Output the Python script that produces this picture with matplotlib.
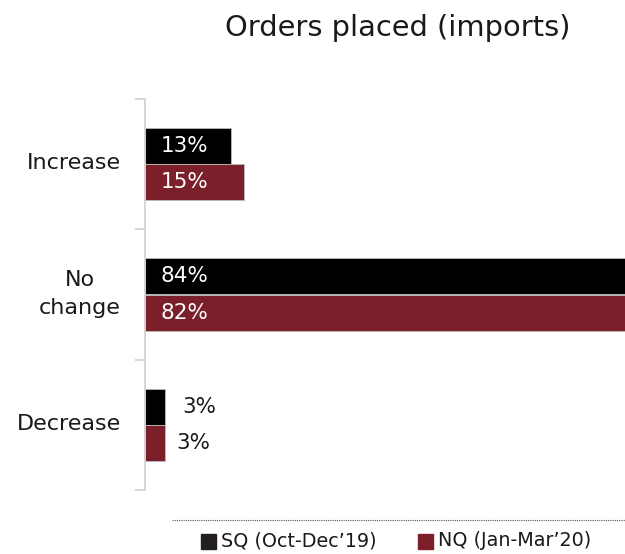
import numpy as np
import matplotlib.pyplot as plt
from matplotlib.patches import Rectangle
from matplotlib.lines import Line2D

plt.rcParams['font.family'] = ['DejaVu Sans']
plt.rcParams['text.color'] = '#1a1a1a'

categories = ['Increase', 'No\nchange', 'Decrease']
sq_values = [13, 84, 3]
nq_values = [15, 82, 3]
series_names = ['SQ (Oct-Dec\u201919)', 'NQ (Jan-Mar\u201920)']
sq_color = '#000000'
nq_color = '#7b1f2b'

W, H = 625, 554
fig = plt.figure(figsize=(W / 100, H / 100), dpi=100)

# axes runs past the right edge so the largest bars are cut off by the figure
left, right = 145, 145 + 660
top, bottom = 99, 490
ax = fig.add_axes([left / W, 1 - bottom / H, (right - left) / W, (bottom - top) / H])
ax.set_xlim(0, 100)
ax.set_ylim(len(categories) - 0.5, -0.5)

y = np.arange(len(categories))
h = 0.277
ax.barh(y - h / 2, sq_values, height=h, color=sq_color, edgecolor='#bbbbbb', linewidth=0.6)
ax.barh(y + h / 2, nq_values, height=h, color=nq_color, edgecolor='#bbbbbb', linewidth=0.6)

for i in range(len(categories)):
    for val, off, dx in ((sq_values[i], -h / 2, 2.6), (nq_values[i], h / 2, 1.8)):
        if val >= 10:
            ax.text(2.4, i + off, f'{val}%', color='white', fontsize=15.5,
                    va='center', ha='left')
        else:
            ax.text(val + dx, i + off, f'{val}%', fontsize=15.5,
                    va='center', ha='left')

for s in ('top', 'right', 'bottom'):
    ax.spines[s].set_visible(False)
ax.spines['left'].set_color('#d0d0d0')
ax.spines['left'].set_linewidth(1.2)
ax.set_xticks([])
ax.set_yticks(np.arange(-0.5, len(categories), 1.0))
ax.set_yticklabels([])
ax.tick_params(axis='y', length=7, width=1.2, color='#d0d0d0')

for i, cat in enumerate(categories):
    fig.text(121 / W, 1 - (163 + i * 130.5) / H, cat, ha='right', va='center',
             multialignment='center', fontsize=16, linespacing=1.5)

fig.text(398 / W, 1 - 28 / H, 'Orders placed (imports)', ha='center', va='center',
         fontsize=20.8)

# dotted rule above the legend
fig.add_artist(Line2D([172 / W, 1.0], [1 - 520 / H] * 2, color='#555555',
                      linewidth=0.8, linestyle=(0, (1, 1))))

# legend swatches
for x0, name, col in ((201, series_names[0], '#231f20'), (418, series_names[1], nq_color)):
    fig.add_artist(Rectangle((x0 / W, 1 - 549 / H), 15 / W, 15 / H, color=col,
                             transform=fig.transFigure))
    fig.text((x0 + 20) / W, 1 - 541 / H, name, ha='left', va='center', fontsize=13.8)

fig.savefig('out.png', dpi=100)
